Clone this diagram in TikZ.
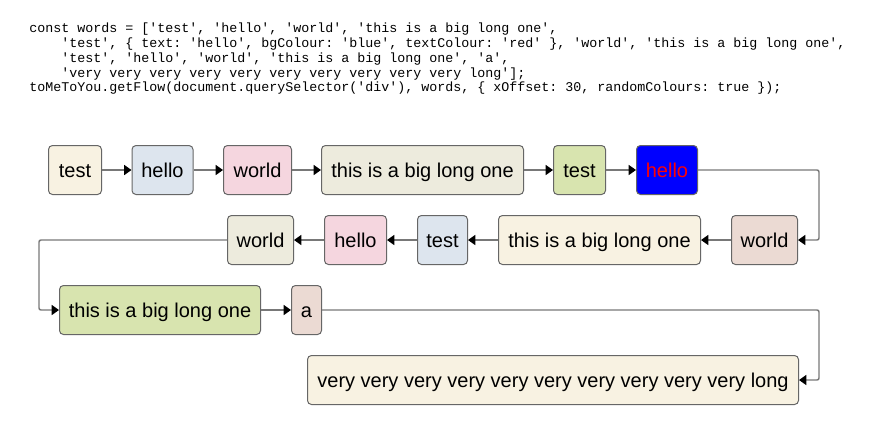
\documentclass[tikz,border=0pt]{standalone}
\usepackage{fontspec}
\setmainfont{Liberation Sans}
\setmonofont{Liberation Mono}
\usetikzlibrary{arrows.meta}
\definecolor{cCream}{HTML}{F8F2E2}
\definecolor{cBlueGray}{HTML}{DDE5EE}
\definecolor{cPink}{HTML}{F5D6DF}
\definecolor{cBeige}{HTML}{EDEBDD}
\definecolor{cGreen}{HTML}{D8E4AF}
\definecolor{cRose}{HTML}{EBDAD3}
\definecolor{cBlue}{HTML}{0000FF}
\definecolor{cRed}{HTML}{FF0000}
\definecolor{cBorder}{HTML}{666666}
\definecolor{cLine}{HTML}{787878}
\begin{document}
\begin{tikzpicture}[x=0.75pt,y=-0.75pt,
  word/.style={draw=cBorder, line width=0.75pt, rounded corners=3pt,
    minimum height=36.75pt, inner xsep=0pt, inner ysep=0pt,
    text height=14pt, text depth=3.5pt, font=\fontsize{15}{18}\selectfont},
  conn/.style={draw=cLine, line width=1.1pt, rounded corners=1.5pt,
    -{Triangle[length=5.5pt,width=7.5pt,color=black]}},
  code/.style={anchor=base west, inner sep=0pt, font=\ttfamily\fontsize{10}{11}\selectfont}]
\useasboundingbox (0,0) rectangle (872,437);
\fill[white] (0,0) rectangle (872,437);

% code
\node[code] (l1) at (29,32.7) {const words = ['test', 'hello', 'world', 'this is a big long one',};
\node[code] (l2) at (61,47.5) {'test', \{ text: 'hello', bgColour: 'blue', textColour: 'red' \}, 'world', 'this is a big long one',};
\node[code] (l3) at (61,62.3) {'test', 'hello', 'world', 'this is a big long one', 'a',};
\node[code] (l4) at (61,77) {'very very very very very very very very very very long'];};
\node[code] (l5) at (29,91.7) {toMeToYou.getFlow(document.querySelector('div'), words, \{ xOffset: 30, randomColours: true \});};

% row 1
\node[word, fill=cCream, minimum width={53*0.75pt}] (t1) at (75,170) {test};
\node[word, fill=cBlueGray, minimum width={61*0.75pt}] (h1) at (162.5,170) {hello};
\node[word, fill=cPink, minimum width={68*0.75pt}] (w1) at (257.5,170) {world};
\node[word, fill=cBeige, minimum width={202*0.75pt}] (b1) at (422.5,170) {this is a big long one};
\node[word, fill=cGreen, minimum width={52*0.75pt}] (t1b) at (579.5,170) {test};
\node[word, fill=cBlue, text=cRed, minimum width={61*0.75pt}] (h1b) at (667,170) {hello};

% row 2
\node[word, fill=cRose, minimum width={66*0.75pt}] (w2) at (764.5,240) {world};
\node[word, fill=cCream, minimum width={202*0.75pt}] (b2) at (599.5,240) {this is a big long one};
\node[word, fill=cBlueGray, minimum width={50*0.75pt}] (t2) at (442.5,240) {test};
\node[word, fill=cPink, minimum width={62*0.75pt}] (h2) at (355.5,240) {hello};
\node[word, fill=cBeige, minimum width={66*0.75pt}] (w2b) at (260.5,240) {world};

% row 3
\node[word, fill=cGreen, minimum width={201*0.75pt}] (b3) at (160,310) {this is a big long one};
\node[word, fill=cRose, minimum width={30*0.75pt}] (a3) at (306.5,310) {a};

% row 4
\node[word, fill=cCream, minimum width={491*0.75pt}] (v4) at (553,380) {very very very very very very very very very very long};

\coordinate (c1) at (819,205);
\coordinate (c2) at (39,275);
\coordinate (c3) at (819,345);

\draw[conn] (t1) -- (h1);
\draw[conn] (h1) -- (w1);
\draw[conn] (w1) -- (b1);
\draw[conn] (b1) -- (t1b);
\draw[conn] (t1b) -- (h1b);
\draw[conn] (h1b.east) -| (c1) |- (w2.east);
\draw[conn] (w2) -- (b2);
\draw[conn] (b2) -- (t2);
\draw[conn] (t2) -- (h2);
\draw[conn] (h2) -- (w2b);
\draw[conn] (w2b.west) -| (c2) |- (b3.west);
\draw[conn] (b3) -- (a3);
\draw[conn] (a3.east) -| (c3) |- (v4.east);
\end{tikzpicture}
\end{document}
